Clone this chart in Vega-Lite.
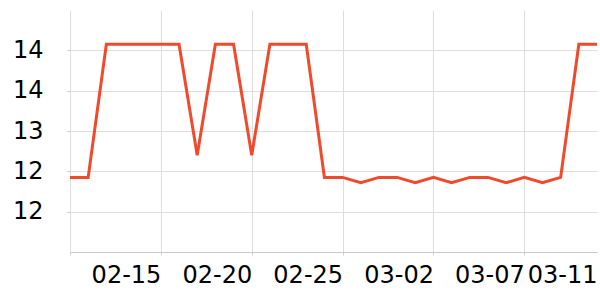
{
  "$schema": "https://vega.github.io/schema/vega-lite/v6.json",
  "autosize": "none",
  "padding": {"left": 70, "top": 10, "right": 3, "bottom": 48},
  "width": 527,
  "height": 242,
  "background": "white",
  "config": {
    "view": {"stroke": null},
    "font": "DejaVu Sans"
  },
  "data": {
    "values": [
      {"date": "2023-02-10", "value": 12.31},
      {"date": "2023-02-11", "value": 12.31},
      {"date": "2023-02-12", "value": 14.29},
      {"date": "2023-02-13", "value": 14.29},
      {"date": "2023-02-14", "value": 14.29},
      {"date": "2023-02-15", "value": 14.29},
      {"date": "2023-02-16", "value": 14.29},
      {"date": "2023-02-17", "value": 12.64},
      {"date": "2023-02-18", "value": 14.29},
      {"date": "2023-02-19", "value": 14.29},
      {"date": "2023-02-20", "value": 12.64},
      {"date": "2023-02-21", "value": 14.29},
      {"date": "2023-02-22", "value": 14.29},
      {"date": "2023-02-23", "value": 14.29},
      {"date": "2023-02-24", "value": 12.31},
      {"date": "2023-02-25", "value": 12.31},
      {"date": "2023-02-26", "value": 12.23},
      {"date": "2023-02-27", "value": 12.31},
      {"date": "2023-02-28", "value": 12.31},
      {"date": "2023-03-01", "value": 12.23},
      {"date": "2023-03-02", "value": 12.31},
      {"date": "2023-03-03", "value": 12.23},
      {"date": "2023-03-04", "value": 12.31},
      {"date": "2023-03-05", "value": 12.31},
      {"date": "2023-03-06", "value": 12.23},
      {"date": "2023-03-07", "value": 12.31},
      {"date": "2023-03-08", "value": 12.23},
      {"date": "2023-03-09", "value": 12.31},
      {"date": "2023-03-10", "value": 14.29},
      {"date": "2023-03-11", "value": 14.29}
    ]
  },
  "mark": {"type": "line", "color": "#f04a2c", "strokeWidth": 3, "strokeJoin": "miter"},
  "encoding": {
    "x": {
      "field": "date",
      "type": "temporal",
      "scale": {"type": "utc", "domain": [{"year": 2023, "month": 2, "date": 10, "utc": true}, {"year": 2023, "month": 3, "date": 11, "utc": true}], "nice": false},
      "axis": {
        "title": null,
        "values": [
          {"year": 2023, "month": 2, "date": 10, "utc": true},
          {"year": 2023, "month": 2, "date": 15, "utc": true},
          {"year": 2023, "month": 2, "date": 20, "utc": true},
          {"year": 2023, "month": 2, "date": 25, "utc": true},
          {"year": 2023, "month": 3, "date": 2, "utc": true},
          {"year": 2023, "month": 3, "date": 7, "utc": true},
          {"year": 2023, "month": 3, "date": 11, "utc": true}
        ],
        "labelExpr": "(utcmonth(datum.value) == 1 && utcdate(datum.value) == 10) ? '' : (utcdate(datum.value) == 11 ? utcFormat(datum.value, '%m-%d') + '\u2009' : utcFormat(datum.value, '%m-%d'))",
        "labelAlign": "right",
        "labelFontSize": 24,
        "labelColor": "#000000",
        "labelPadding": 8,
        "labelOverlap": false,
        "labelFlush": false,
        "tickSize": 3,
        "tickColor": "#cccccc",
        "tickOpacity": {"condition": {"test": "utcdate(datum.value) == 11", "value": 0}, "value": 1},
        "domainColor": "#c8c8c8",
        "grid": true,
        "gridColor": "#dddddd",
        "gridOpacity": {"condition": {"test": "utcdate(datum.value) == 11", "value": 0}, "value": 1}
      }
    },
    "y": {
      "field": "value",
      "type": "quantitative",
      "scale": {"domain": [11.2, 14.8], "nice": false, "zero": false},
      "axis": {
        "title": null,
        "values": [11.8, 12.4, 13.0, 13.6, 14.2],
        "format": ".0f",
        "domain": false,
        "labelFontSize": 24,
        "labelColor": "#000000",
        "labelPadding": 24,
        "tickSize": 3,
        "tickColor": "#cccccc",
        "grid": true,
        "gridColor": "#dddddd"
      }
    }
  }
}
